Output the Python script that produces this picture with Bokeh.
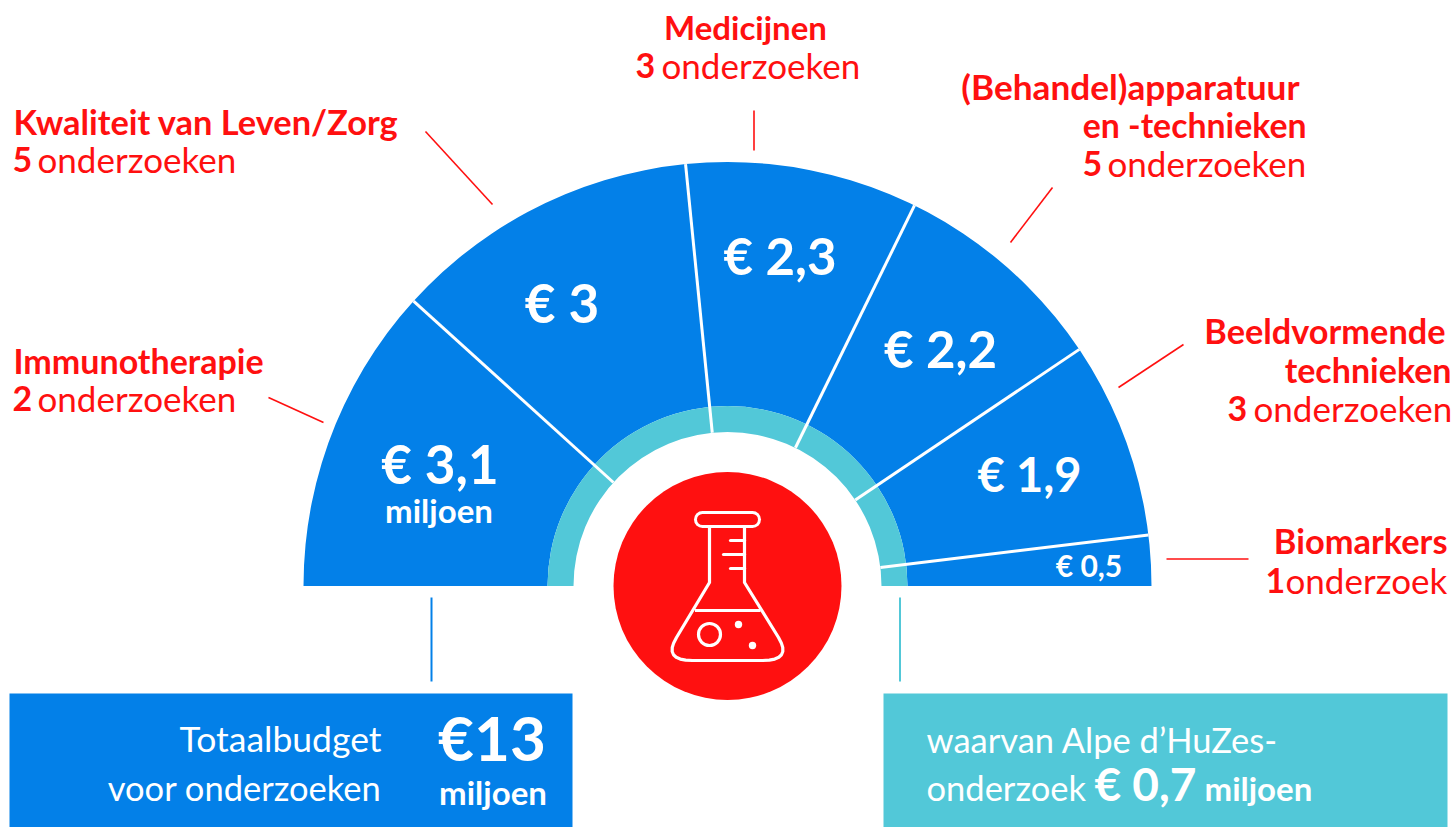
import math
from bokeh.plotting import figure
from bokeh.embed import file_html
from bokeh.resources import INLINE
from bokeh.core.properties import value

# ---- data ----
categories = ["Immunotherapie", "Kwaliteit van Leven/Zorg", "Medicijnen",
              "(Behandel)apparatuur en -technieken", "Beeldvormende technieken", "Biomarkers"]
budgets = [3.05, 3.04, 2.30, 2.16, 1.95, 0.50]
budget_labels = ["€ 3,1", "€ 3", "€ 2,3", "€ 2,2", "€ 1,9", "€ 0,5"]
studies = [2, 5, 3, 5, 3, 1]
total_label = "€13"
alpe_label = "€ 0,7"

BLUE = "#0380E8"
TEAL = "#52C8D8"
RED = "#FF1010"
WHITE = "#FFFFFF"
FONT = "Lato"

W, H = 1454, 827
def Y(y):
    return 827 - y

p = figure(width=W, height=H, x_range=(0, W), y_range=(0, H),
           output_backend="svg", toolbar_location=None, min_border=0,
           outline_line_color=None, background_fill_color=WHITE)
p.axis.visible = False
p.grid.visible = False

def label(x, y, s, size, color=RED, bold=False, align="left"):
    lift = 1.6 if color == RED else 0.8
    p.text([x], [Y(y - 0.36 * size - lift)], text=[s], text_font=value(FONT), text_font_size=f"{size}px",
           text_color=color, text_align=align, text_baseline="alphabetic",
           text_font_style="bold" if bold else "normal")

def seg(x0, y0, x1, y1, color=RED, width=1.6):
    p.line([x0, x1], [Y(y0), Y(y1)], line_color=color, line_width=width)

# ---- semicircle ----
cx, cy = 727, Y(585.5)
R_OUT, R_TEAL, R_IN, R_RED = 424, 180, 154, 114
total = sum(budgets)
edges = [math.pi]
for b in budgets:
    edges.append(edges[-1] - b / total * math.pi)

p.annular_wedge([cx], [cy], inner_radius=R_TEAL, outer_radius=R_OUT, start_angle=0, end_angle=math.pi,
                fill_color=BLUE, line_color=None)
p.annular_wedge([cx], [cy], inner_radius=R_IN, outer_radius=R_TEAL, start_angle=0, end_angle=math.pi,
                fill_color=TEAL, line_color=None)
for a in edges[1:-1]:
    p.line([cx + R_IN * math.cos(a), cx + R_OUT * math.cos(a)],
           [cy + R_IN * math.sin(a), cy + R_OUT * math.sin(a)],
           line_color=WHITE, line_width=3)
p.circle([cx], [cy], radius=R_RED, fill_color=RED, line_color=None)

# ---- value labels ----
val_pos = [(439.5, 483, 53), (561.5, 322, 53), (779.5, 274, 51), (940, 367, 51), (1029, 491, 47), (1088.5, 576, 30)]
for (x, y, s), t in zip(val_pos, budget_labels):
    label(x, y, t, s, WHITE, True, "center")
label(438.5, 522, "miljoen", 33, WHITE, True, "center")

# ---- category labels ----
label(13, 135, "Kwaliteit van Leven/Zorg", 34.4, RED, True)
label(12, 173, str(studies[1]), 34, RED, True)
label(37, 173, "onderzoeken", 35, RED)

label(745, 40, "Medicijnen", 33, RED, True, "center")
label(635, 79, str(studies[2]), 34, RED, True)
label(661, 79, "onderzoeken", 35, RED)

label(1299, 100, "(Behandel)apparatuur", 35.2, RED, True, "right")
label(1306, 138, "en -technieken", 33.8, RED, True, "right")
label(1082, 177, str(studies[3]), 34, RED, True)
label(1107, 177, "onderzoeken", 35, RED)

label(1445, 344, "Beeldvormende", 34.3, RED, True, "right")
label(1451, 383, "technieken", 34, RED, True, "right")
label(1227, 422, str(studies[4]), 34, RED, True)
label(1253, 422, "onderzoeken", 35, RED)

label(13, 374, "Immunotherapie", 34, RED, True)
label(12, 412, str(studies[0]), 34, RED, True)
label(37, 412, "onderzoeken", 35, RED)

label(1447, 554, "Biomarkers", 34.4, RED, True, "right")
label(1265, 594, str(studies[5]), 34, RED, True)
label(1285, 594, "onderzoek", 35, RED)

# ---- leader lines ----
seg(425, 131, 492, 204)
seg(753.5, 110, 753.5, 150)
seg(1052, 187, 1010, 242)
seg(1183, 344, 1118, 387)
seg(1166, 558.5, 1248, 558.5)
seg(268, 397, 323, 422)
seg(431, 597, 431, 681, BLUE, 2)
seg(899.5, 597, 899.5, 681, TEAL, 2)

# ---- bottom panels ----
p.quad(left=[9], right=[572], top=[Y(693)], bottom=[Y(827)], fill_color=BLUE, line_color=None)
p.quad(left=[883], right=[1447], top=[Y(693)], bottom=[Y(827)], fill_color=TEAL, line_color=None)

label(381, 752, "Totaalbudget", 35.5, WHITE, False, "right")
label(381, 800, "voor onderzoeken", 34.5, WHITE, False, "right")
label(491.5, 760, total_label, 62, WHITE, True, "center")
label(492.5, 804, "miljoen", 33, WHITE, True, "center")

label(926, 752, "waarvan Alpe d’HuZes-", 34.5, WHITE)
label(926, 800, "onderzoek", 34.5, WHITE)
label(1145, 800, alpe_label, 46, WHITE, True, "center")
label(1204, 800, "miljoen", 33, WHITE, True)

# ---- flask icon ----
def quad_pts(a, c, b, n=8):
    return [((1 - t) ** 2 * a[0] + 2 * t * (1 - t) * c[0] + t ** 2 * b[0],
             (1 - t) ** 2 * a[1] + 2 * t * (1 - t) * c[1] + t ** 2 * b[1])
            for t in [i / n for i in range(n + 1)]]

p.line([702, 752], [Y(519), Y(519)], line_color=WHITE, line_width=17, line_cap="round")
p.line([702, 752], [Y(519), Y(519)], line_color=RED, line_width=11, line_cap="round")
body = [(709, 527), (709, 582), (676, 637)] + quad_pts((676, 637), (662, 660), (692, 660)) \
     + quad_pts((762, 660), (792, 660), (778, 637)) + [(744, 582), (744, 527)]
p.line([a for a, _ in body], [Y(b) for _, b in body], line_color=WHITE, line_width=3.2, line_join="round")
seg(694.5, 610, 760, 610, WHITE, 3.2)
for x0, y0 in ((730, 540), (723, 554), (730, 568)):
    p.line([x0, 744], [Y(y0), Y(y0)], line_color=WHITE, line_width=3.2, line_cap="round")
p.circle([709], [Y(634)], radius=11, fill_color=None, line_color=WHITE, line_width=3.2)
p.circle([738, 752], [Y(624), Y(645)], radius=3.7, fill_color=WHITE, line_color=None)

open("out.html", "w").write(file_html(p, INLINE))
